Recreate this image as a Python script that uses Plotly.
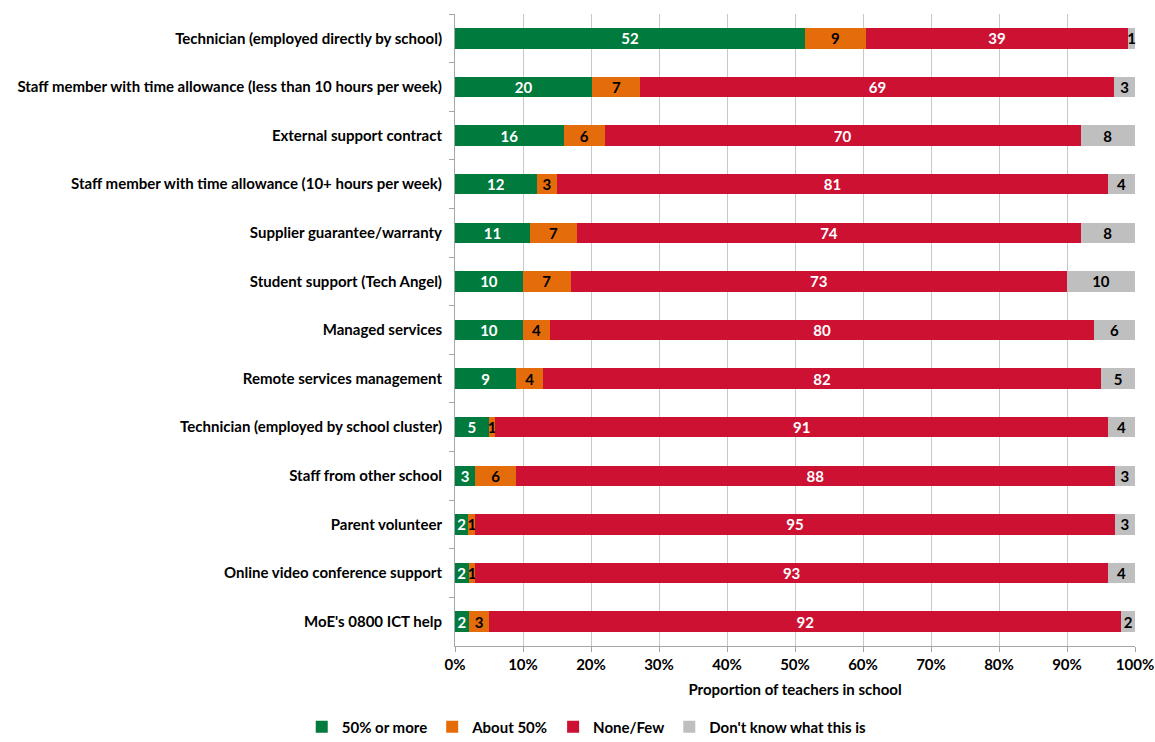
import plotly.graph_objects as go

categories = [
    "Technician (employed directly by school)",
    "Staff member with time allowance (less than 10 hours per week)",
    "External support contract",
    "Staff member with time allowance (10+ hours per week)",
    "Supplier guarantee/warranty",
    "Student support (Tech Angel)",
    "Managed services",
    "Remote services management",
    "Technician (employed by school cluster)",
    "Staff from other school",
    "Parent volunteer",
    "Online video conference support",
    "MoE's 0800 ICT help",
]

fifty_or_more = [52, 20, 16, 12, 11, 10, 10, 9, 5, 3, 2, 2, 2]
about_fifty = [9, 7, 6, 3, 7, 7, 4, 4, 1, 6, 1, 1, 3]
none_few = [39, 69, 70, 81, 74, 73, 80, 82, 91, 88, 95, 93, 92]
dont_know = [1, 3, 8, 4, 8, 10, 6, 5, 4, 3, 3, 4, 2]

x_ticks = [0, 10, 20, 30, 40, 50, 60, 70, 80, 90, 100]
x_tick_labels = ["0%", "10%", "20%", "30%", "40%", "50%", "60%", "70%", "80%", "90%", "100%"]

series = [
    ("50% or more", fifty_or_more, "#007A3D", "white"),
    ("About 50%", about_fifty, "#E46C0A", "black"),
    ("None/Few", none_few, "#CC1133", "white"),
    ("Don't know what this is", dont_know, "#BFBFBF", "black"),
]

FONT = "Lato"
BOLD = dict(family=FONT, size=15, color="black", weight="bold")

fig = go.Figure()
for name, vals, color, txtcolor in series:
    fig.add_trace(go.Bar(
        y=categories,
        x=vals,
        name=name,
        orientation="h",
        marker=dict(color=color, line=dict(width=0)),
        text=[str(v) for v in vals],
        textposition="inside",
        insidetextanchor="middle",
        textangle=0,
        textfont=dict(family=FONT, size=15, color=txtcolor, weight="bold"),
        constraintext="none",
        cliponaxis=False,
    ))

fig.update_layout(
    width=1155,
    height=742,
    barmode="stack",
    barnorm="percent",
    bargap=0.58,
    plot_bgcolor="white",
    paper_bgcolor="white",
    margin=dict(l=455, r=20, t=14, b=96, autoexpand=False),
    font=BOLD,
    uniformtext=dict(minsize=15, mode="show"),
    legend=dict(
        orientation="h",
        xref="container",
        yref="paper",
        x=0.508, xanchor="center",
        y=-0.128, yanchor="middle",
        font=BOLD,
        traceorder="normal",
        itemwidth=30,
    ),
    showlegend=True,
)

fig.update_xaxes(
    range=[0, 100],
    tickvals=x_ticks,
    ticktext=x_tick_labels,
    showgrid=True,
    gridcolor="#C8C8C8",
    gridwidth=1,
    showline=True,
    linecolor="#A6A6A6",
    ticks="outside",
    ticklen=5,
    tickcolor="#A6A6A6",
    tickfont=BOLD,
    title=dict(text="Proportion of teachers in school", font=BOLD, standoff=12),
    zeroline=False,
)

fig.update_yaxes(
    autorange="reversed",
    showline=True,
    linecolor="#A6A6A6",
    ticks="outside",
    tickson="boundaries",
    ticklen=5,
    tickcolor="#A6A6A6",
    ticklabelstandoff=9,
    tickfont=BOLD,
    showgrid=False,
)

fig.write_html("out.html")
